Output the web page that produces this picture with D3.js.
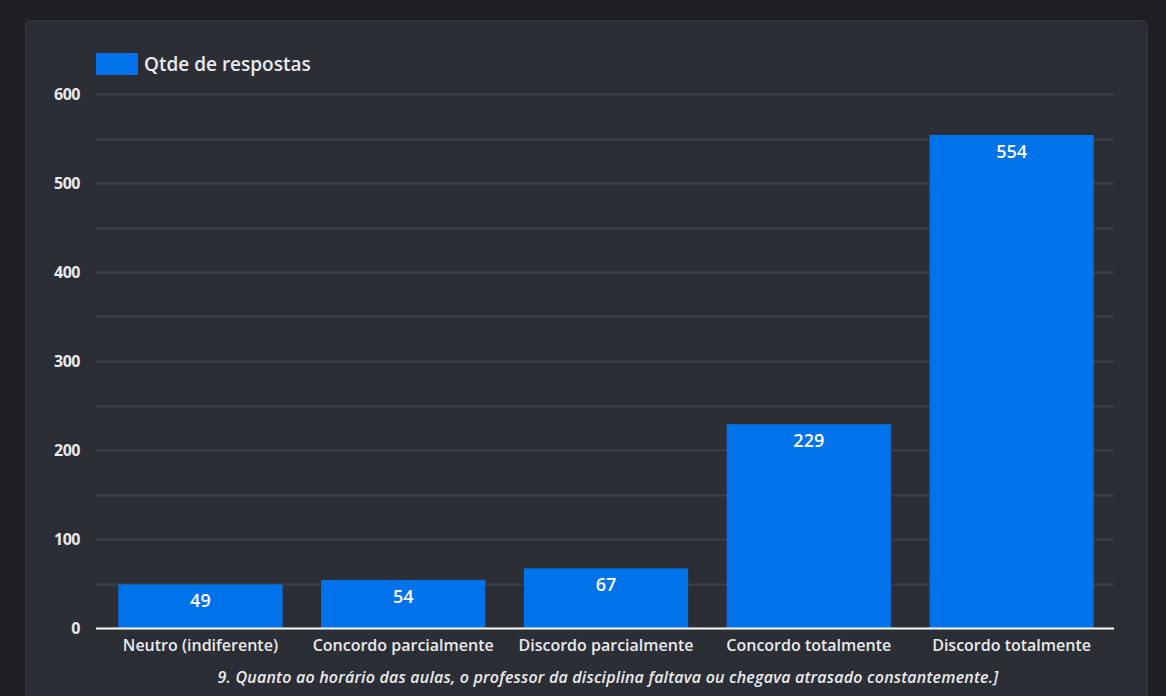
<!DOCTYPE html>
<html><head><meta charset="utf-8">
<script src="https://cdn.jsdelivr.net/npm/d3@7"></script>
<style>
html,body{margin:0;padding:0;background:#1f2024;}
svg{display:block;}
</style></head>
<body>
<svg id="chart" width="1166" height="696"></svg>
<script>
const categories = ["Neutro (indiferente)", "Concordo parcialmente", "Discordo parcialmente", "Concordo totalmente", "Discordo totalmente"];
const values = [49, 54, 67, 229, 554];
const yTicks = [0, 100, 200, 300, 400, 500, 600];
const gridTicks = [50, 100, 150, 200, 250, 300, 350, 400, 450, 500, 550, 600];
const seriesName = "Qtde de respostas";
const xTitle = "9. Quanto ao horário das aulas, o professor da disciplina faltava ou chegava atrasado constantemente.]";

(function () {
const svg = d3.select("#chart");
const font = "'Open Sans', 'Noto Sans', sans-serif";
const barColor = "#0072ea";

// panel
svg.append("rect").attr("x", 25.5).attr("y", 20.5).attr("width", 1122).attr("height", 700)
  .attr("rx", 5).attr("fill", "#2c2e36").attr("stroke", "#35373f").attr("stroke-width", 1);

const pLeft = 96, pRight = 1114, pTop = 94, pBottom = 628;
const x = d3.scaleBand().domain(categories).range([pLeft + 2, pRight]).paddingInner(0.19).paddingOuter(0.1);
const y = d3.scaleLinear().domain([0, 600]).range([pBottom, pTop]);

// grid
svg.append("g").selectAll("line").data(gridTicks).join("line")
  .attr("x1", pLeft).attr("x2", pRight)
  .attr("y1", d => Math.round(y(d)) + 0.5).attr("y2", d => Math.round(y(d)) + 0.5)
  .attr("stroke", "#3d4048").attr("stroke-width", 2);

// y axis labels
const yAxis = d3.axisLeft(y).tickValues(yTicks).tickSize(0).tickPadding(0);
const gy = svg.append("g").attr("transform", `translate(80,0)`).call(yAxis);
gy.select(".domain").remove();
gy.selectAll("text").attr("fill", "#e8eaed").attr("font-family", font).attr("font-size", 16).attr("font-weight", 700)
  .attr("letter-spacing", "-0.5px");

// bars
svg.append("g").selectAll("rect").data(values).join("rect")
  .attr("x", (d, i) => x(categories[i])).attr("width", x.bandwidth())
  .attr("y", d => y(d)).attr("height", d => y(0) - y(d))
  .attr("fill", barColor);

// value labels
svg.append("g").selectAll("text").data(values).join("text")
  .attr("x", (d, i) => x(categories[i]) + x.bandwidth() / 2)
  .attr("y", d => y(d) + 23)
  .attr("text-anchor", "middle")
  .attr("fill", "#ffffff").attr("font-family", font).attr("font-size", 18).attr("font-weight", 600)
  .text(d => d);

// x axis
const xAxis = d3.axisBottom(x).tickSize(0).tickPadding(12);
const gx = svg.append("g").attr("transform", `translate(0,${pBottom})`).call(xAxis);
gx.select(".domain").attr("d", `M${pLeft},0.5H${pRight}`).attr("stroke", "#ffffff").attr("stroke-width", 2);
gx.selectAll("text").attr("fill", "#e8eaed").attr("font-family", font).attr("font-size", 16).attr("font-weight", 600)
  .attr("letter-spacing", "0px");

// x title
svg.append("text").attr("x", 608).attr("y", 683).attr("text-anchor", "middle")
  .attr("fill", "#e8eaed").attr("font-family", font).attr("font-size", 16).attr("font-style", "italic").attr("font-weight", 600)
  .attr("letter-spacing", "0.2px")
  .text(xTitle);

// legend
svg.append("rect").attr("x", 96).attr("y", 53).attr("width", 42).attr("height", 22).attr("fill", barColor);
svg.append("text").attr("x", 144).attr("y", 71).attr("fill", "#e8eaed").attr("font-family", font)
  .attr("font-size", 19).attr("font-weight", 600).text(seriesName);
})();
</script>
</body></html>
